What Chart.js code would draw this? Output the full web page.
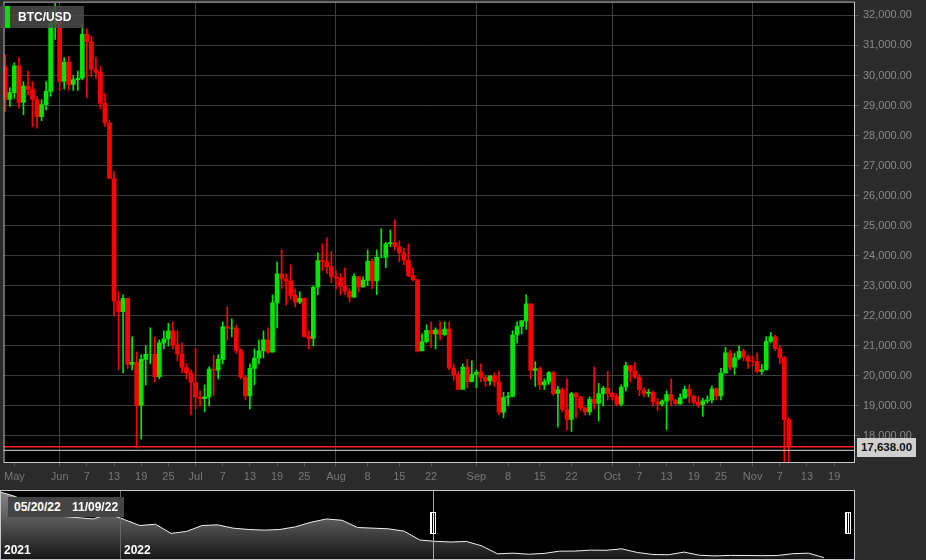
<!DOCTYPE html>
<html><head><meta charset="utf-8">
<script src="https://cdn.jsdelivr.net/npm/chart.js@4.4.1/dist/chart.umd.min.js"></script>
<style>
body{margin:0;background:#2b2b2b;width:926px;height:560px;overflow:hidden;font-family:"Liberation Sans",Arial,sans-serif}
#main{position:absolute;left:0;top:-9px;width:926px;height:499px}
#nav{position:absolute;left:0;top:490px;width:855px;height:70px}
.lab{position:absolute;color:#fff;font-weight:bold;font-size:12px;white-space:nowrap}
</style></head><body>
<div id="main"><canvas id="c1"></canvas></div>
<div id="nav"><canvas id="c2"></canvas></div>
<div class="lab" style="left:0;top:6px;width:84px;height:22px;background:rgba(75,75,75,0.85)"><div style="position:absolute;left:5px;top:0;width:5px;height:22px;background:#00e000"></div><span style="position:absolute;left:18px;top:4px;font-size:12px">BTC/USD</span></div>
<div class="lab" style="left:8px;top:497px;background:#444;padding:3px 6px;font-size:12px">05/20/22</div>
<div class="lab" style="left:66px;top:497px;background:#444;padding:3px 6px;font-size:12px">11/09/22</div>
<div class="lab" style="left:4px;top:543px;font-size:12px">2021</div>
<div class="lab" style="left:124px;top:543px;font-size:12px">2022</div>
<div class="lab" style="left:857px;top:438px;width:59px;height:19px;background:#cfcfcf;color:#111;font-size:11.5px;text-align:center;line-height:19px">17,638.00</div>
<script>
// Daily candles starting 2022-05-20 (day 0)
const closes=[29200,29430,30320,29100,29650,29540,29200,28630,29030,29470,31730,31790,
29800,30450,29700,29860,29910,31370,31130,30200,30110,29080,28420,26570,22490,22140,22580,20380,20450,19020,20550,20720,20720,19970,21100,21230,21500,21030,20730,20280,20100,19780,
19290,19240,19300,20230,20190,20550,21640,21590,21590,20850,19960,19330,20250,20590,20830,21200,20790,22430,23400,23230,23160,22680,22450,22580,21310,21250,22950,23840,23800,23630,23300,
23270,22980,22820,22620,23310,22960,23180,23810,23160,23950,23950,24400,24440,24300,24100,23850,23340,23210,20830,21140,21520,21400,21530,21370,21560,20260,20040,19550,20290,19810,20050,
20130,19950,19830,20000,19800,18790,19290,19320,21360,21650,21830,22400,20180,20240,19700,19800,20110,19420,19540,18880,18550,19410,19300,18930,18800,19220,19080,19410,19590,19420,
19310,19060,19630,20340,20160,19960,19530,19420,19450,19130,19060,19160,19380,19180,19070,19270,19550,19330,19120,19040,19170,19200,19570,19330,20090,20770,20290,20600,20820,20630,20490,
20480,20150,20200,21150,21300,20910,20600,18540,17638];
const firstOpen=30300;
const highs=[30700,29600,30420,30600,29800,30150,29800,29300,29200,29800,32200,32400,
31900,30600,30650,30000,30150,31700,31550,31300,30600,30300,29400,28500,26800,22800,22700,21500,21300,20800,20700,21000,21600,21300,21200,21500,21750,21800,21500,21100,20400,20200,
20900,19500,19700,20300,20700,20700,21800,22300,21900,21700,20900,20000,20400,20900,21200,21500,21600,22700,23800,24200,23400,23700,22900,22800,22600,21500,23000,24100,24400,24600,24150,
23500,23400,23600,22900,23400,23250,23300,24200,23900,24200,24900,24450,24850,25200,24500,24250,24400,23600,23200,21400,21700,21800,21600,21800,21800,21800,20400,20150,20400,20550,20500,
20200,20400,20000,20000,20100,20150,19450,19450,21500,21800,21850,22700,22400,20480,20300,19900,20150,20150,19650,19600,19900,19450,19450,19300,18950,19300,20300,19750,19650,20150,
19450,19400,19700,20450,20350,20450,20050,19600,19550,19500,19250,19200,19500,19900,19220,19400,19660,19700,19360,19300,19250,19340,19670,19600,20250,20950,20850,20750,20990,20900,20700,
20650,20770,20380,21300,21450,21350,21000,20650,18600];
const lows=[28800,28980,29240,28900,28700,29350,28300,28250,28500,28850,29300,31200,
29500,29550,29500,29500,29500,29850,29250,29950,29900,28900,28300,26600,22000,20200,20100,20250,20200,17600,17900,19700,20400,19800,19900,20900,21000,20900,20500,20100,19900,18700,
18900,19000,18800,19000,19350,19900,20400,21200,21300,20750,19900,19200,18900,19700,20400,20600,20750,20800,21600,22900,22350,22550,22300,22400,21300,20900,21000,22700,23500,23400,23100,
22900,22700,22700,22450,22600,22800,22950,23000,22900,22700,23950,23600,24300,24200,23800,23700,23300,23150,20800,20850,21100,20950,20900,21200,21350,20200,19850,19550,19600,19600,19800,
19600,19800,19650,19700,19650,18700,18600,19000,19300,21100,21400,21550,19900,19650,19550,19550,19720,19350,18300,18800,18200,18150,18600,18850,18700,18700,18900,18500,19000,19200,
19200,19000,19000,19500,19800,19900,19340,19300,19300,19000,18850,19000,18200,19000,19050,19050,19250,19100,19050,18950,18650,19100,19090,19200,19200,20100,20200,20050,20550,20500,20250,
20350,20100,20050,20200,21100,20850,20400,17150,15700];
const tickDays=[2,12,18,24,30,36,42,48,54,60,66,73,80,87,94,104,111,118,125,134,140,146,152,158,165,171,177,183];
const tickLabels=["May","Jun","7","13","19","25","Jul","7","13","19","25","Aug","8","15","22","Sep","8","15","22","Oct","7","13","19","25","Nov","7","13","19"];
const monthDays=[12,42,73,104,134,165];
const yTicks=[18000,19000,20000,21000,22000,23000,24000,25000,26000,27000,28000,29000,30000,31000,32000];
const lastPrice=17638;
// Navigator: weekly closes from 2021-11-08
const navValues=[67500,64000,58000,57000,49000,48000,47000,50800,46500,42000,43000,36000,37500,42000,42500,40000,39000,38500,39000,41000,44500,47000,46000,40500,40000,39500,37700,31000,30000,29500,29900,26500,20500,21000,20200,20800,22500,22600,23300,23200,24300,21500,20000,19800,21800,19400,18900,19300,19200,19100,19200,20600,21000,17638];

const opens=closes.map((c,i)=>i===0?firstOpen:closes[i-1]);
const col=closes.map((c,i)=>c>=opens[i]?'#00e600':'#ff0000');
const bodies=closes.map((c,i)=>({x:i,y:[opens[i],c]}));
const wicks=closes.map((c,i)=>({x:i,y:[lows[i],highs[i]]}));

const plotDeco={id:'deco',
 beforeDraw(ch){const a=ch.chartArea,x=ch.ctx;x.save();x.fillStyle='#000';x.fillRect(a.left,a.top,a.right-a.left,a.bottom-a.top);x.restore();},
 afterDraw(ch){const a=ch.chartArea,x=ch.ctx,y=ch.scales.y.getPixelForValue(lastPrice);x.save();
  x.strokeStyle='#ff2020';x.lineWidth=1.5;x.beginPath();x.moveTo(a.left,y);x.lineTo(a.right,y);x.stroke();
  x.strokeStyle='#ddd';x.lineWidth=1;x.beginPath();x.moveTo(a.left,y+3.5);x.lineTo(a.right,y+3.5);x.stroke();
  x.strokeStyle='#c8c8d0';x.lineWidth=1;x.strokeRect(a.left+0.5,a.top+0.5,a.right-a.left-1,a.bottom-a.top-1);x.restore();}};

new Chart(document.getElementById('c1'),{type:'bar',
 data:{datasets:[
  {data:bodies,backgroundColor:col,barThickness:4,order:1,grouped:false},
  {data:wicks,backgroundColor:col,barThickness:1,order:2,grouped:false}]},
 options:{responsive:true,maintainAspectRatio:false,animation:false,
  layout:{padding:0},
  plugins:{legend:{display:false},tooltip:{enabled:false}},
  scales:{
   x:{type:'linear',min:-0.4,max:187.6,offset:false,
    afterBuildTicks(s){s.ticks=tickDays.map(v=>({value:v}));},
    afterFit(s){s.height=27;},
    ticks:{autoSkip:false,maxRotation:0,color:'#777',font:{size:11,family:'Liberation Sans'},padding:4,
     callback(v){const i=tickDays.indexOf(v);return i>=0?tickLabels[i]:'';}},
    grid:{offset:false,color(c){return monthDays.includes(c.tick&&c.tick.value)?'#3c3c3c':'rgba(0,0,0,0)';},drawTicks:true,tickLength:3,tickColor:'#555'},
    border:{display:false}},
   y:{position:'right',min:17100,max:32460,
    afterBuildTicks(s){s.ticks=yTicks.map(v=>({value:v}));},
    afterFit(s){s.width=71;},
    ticks:{color:'#8a8a8a',font:{size:11,family:'Liberation Sans'},padding:4,
     callback(v){return v.toLocaleString('en-US',{minimumFractionDigits:2});}},
    grid:{color:'#3c3c3c',tickLength:4,tickColor:'#555'},border:{display:false}}}},
 plugins:[plotDeco]});

const navDeco={id:'navdeco',
 beforeDraw(ch){const x=ch.ctx;x.save();x.fillStyle='#000';x.fillRect(0,0,ch.width,ch.height);x.restore();},
 afterDraw(ch){const x=ch.ctx,h=ch.height;x.save();
  x.strokeStyle='#666';x.beginPath();x.moveTo(120.5,0);x.lineTo(120.5,h);x.stroke();
  x.strokeStyle='#aaa';x.beginPath();x.moveTo(433.5,0);x.lineTo(433.5,h);x.stroke();
  x.strokeStyle='#c8c8d0';x.strokeRect(0.5,0.5,ch.width-1,h-1);
  [433,848].forEach(p=>{x.fillStyle='#fff';x.fillRect(p-3,22,6,22);x.fillStyle='#000';x.fillRect(p-1,23,1,20);x.fillRect(p+1,23,1,20);});
  x.restore();}};
const ctx2=document.getElementById('c2').getContext('2d');
const grad=ctx2.createLinearGradient(0,0,0,70);grad.addColorStop(0,'#8a8a8a');grad.addColorStop(1,'#151515');
new Chart(ctx2,{type:'line',
 data:{datasets:[{data:navValues.map((v,i)=>({x:i*7,y:v})),borderColor:'#eee',borderWidth:1,pointRadius:0,fill:'start',backgroundColor:grad,tension:0}]},
 options:{responsive:true,maintainAspectRatio:false,animation:false,layout:{padding:0},
  plugins:{legend:{display:false},tooltip:{enabled:false}},
  scales:{x:{type:'linear',min:0,max:385,display:false},y:{min:15800,max:69000,display:false}}},
 plugins:[navDeco]});
</script></body></html>
